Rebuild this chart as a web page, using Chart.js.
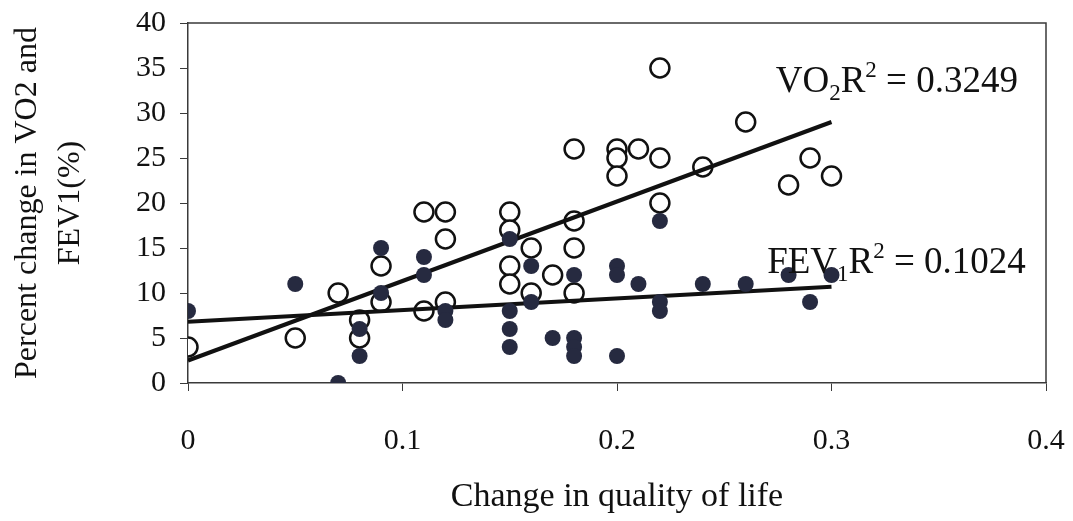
<!DOCTYPE html>
<html>
<head>
<meta charset="utf-8">
<script src="https://cdn.jsdelivr.net/npm/chart.js@4.4.1/dist/chart.umd.min.js"></script>
<style>
  html, body { margin: 0; padding: 0; background: #fff; }
  #wrap { width: 1073px; height: 521px; }
</style>
</head>
<body>
<div id="wrap"><canvas id="my-chart"></canvas></div>
<script>
// open circles: change in VO2
const vo2X = [0, 0.05, 0.07, 0.08, 0.08, 0.09, 0.09, 0.11, 0.11, 0.12, 0.12, 0.12,
  0.15, 0.15, 0.15, 0.15, 0.16, 0.16, 0.17, 0.18, 0.18, 0.18, 0.18,
  0.20, 0.20, 0.20, 0.21, 0.22, 0.22, 0.22, 0.24, 0.26, 0.28, 0.29, 0.30];
const vo2Y = [4, 5, 10, 7, 5, 13, 9, 19, 8, 19, 16, 9,
  19, 17, 13, 11, 15, 10, 12, 26, 18, 15, 10,
  26, 25, 23, 26, 35, 25, 20, 24, 29, 22, 25, 23];

// filled dots: change in FEV1
const fevX = [0, 0.05, 0.07, 0.08, 0.08, 0.09, 0.09, 0.11, 0.11, 0.12, 0.12,
  0.15, 0.15, 0.15, 0.15, 0.16, 0.16, 0.17, 0.18, 0.18, 0.18, 0.18,
  0.20, 0.20, 0.20, 0.21, 0.22, 0.22, 0.22, 0.24, 0.26, 0.28, 0.29, 0.30];
const fevY = [8, 11, 0, 6, 3, 15, 10, 14, 12, 8, 7,
  16, 8, 6, 4, 13, 9, 5, 12, 5, 4, 3,
  13, 12, 3, 11, 18, 9, 8, 11, 11, 12, 9, 12];

// trend line end points
const trendX = [0, 0.30];
const vo2Trend = [2.5, 29.0];
const fevTrend = [6.8, 10.7];

const xTicks = [0, 0.1, 0.2, 0.3, 0.4];
const yTicks = [0, 5, 10, 15, 20, 25, 30, 35, 40];

const toPoints = (xs, ys) => xs.map((x, i) => ({ x: x, y: ys[i] }));

const FONT = "'Liberation Serif', 'Times New Roman', serif";
const AXIS_COLOR = '#3a3a3a';

// draws the box border and the two R² labels (with sub/superscripts)
const extrasPlugin = {
  id: 'extras',
  afterDraw(chart) {
    const ctx = chart.ctx;
    const a = chart.chartArea;
    ctx.save();
    ctx.strokeStyle = AXIS_COLOR;
    ctx.lineWidth = 1.5;
    ctx.beginPath();
    ctx.moveTo(a.left, a.top);
    ctx.lineTo(a.right, a.top);
    ctx.lineTo(a.right, a.bottom);
    ctx.stroke();

    const xs = chart.scales.x, ys = chart.scales.y;
    const drawLabel = (parts, xv, yv) => {
      let px = xs.getPixelForValue(xv);
      const py = ys.getPixelForValue(yv);
      ctx.fillStyle = '#111';
      ctx.textBaseline = 'alphabetic';
      parts.forEach(p => {
        const size = p.small ? 23 : 37;
        const dy = p.sub ? 8 : (p.sup ? -15 : 0);
        ctx.font = size + 'px ' + FONT;
        ctx.fillText(p.t, px, py + dy);
        px += ctx.measureText(p.t).width;
      });
    };
    drawLabel([{ t: 'VO' }, { t: '2', small: true, sub: true }, { t: 'R' },
      { t: '2', small: true, sup: true }, { t: ' = 0.3249' }], 0.274, 32.3);
    drawLabel([{ t: 'FEV' }, { t: '1', small: true, sub: true }, { t: 'R' },
      { t: '2', small: true, sup: true }, { t: ' = 0.1024' }], 0.270, 12.2);
    ctx.restore();
  }
};

const ctx = document.getElementById('my-chart').getContext('2d');
const chart = new Chart(ctx, {
  type: 'scatter',
  data: {
    datasets: [
      {
        label: 'VO2',
        data: toPoints(vo2X, vo2Y),
        pointRadius: 9.5,
        pointBorderWidth: 2.5,
        pointBorderColor: '#111',
        pointBackgroundColor: '#fff',
        order: 3
      },
      {
        label: 'VO2 trend',
        type: 'line',
        data: toPoints(trendX, vo2Trend),
        borderColor: '#111',
        borderWidth: 4,
        pointRadius: 0,
        order: 2
      },
      {
        label: 'FEV1 trend',
        type: 'line',
        data: toPoints(trendX, fevTrend),
        borderColor: '#111',
        borderWidth: 4,
        pointRadius: 0,
        order: 2
      },
      {
        label: 'FEV1',
        data: toPoints(fevX, fevY),
        pointRadius: 8,
        pointBorderWidth: 0,
        pointBackgroundColor: '#262a40',
        order: 1
      }
    ]
  },
  options: {
    responsive: true,
    maintainAspectRatio: false,
    animation: false,
    layout: { padding: { left: 0, right: 27, top: 23, bottom: 0 } },
    plugins: { legend: { display: false }, tooltip: { enabled: false } },
    scales: {
      x: {
        type: 'linear',
        min: 0, max: 0.4,
        afterBuildTicks: s => { s.ticks = xTicks.map(v => ({ value: v })); },
        afterFit: s => { s.height = 138; s.paddingLeft = 0; s.paddingRight = 0; },
        grid: { display: true, drawOnChartArea: false, drawTicks: true, tickLength: 8, color: AXIS_COLOR },
        border: { display: true, color: AXIS_COLOR, width: 1.5 },
        ticks: {
          color: '#111', padding: 32,
          font: { family: FONT, size: 30 },
          callback: v => String(v)
        },
        title: {
          display: true, text: 'Change in quality of life', color: '#111',
          font: { family: FONT, size: 34 }, padding: { top: 0, bottom: 4 }
        }
      },
      y: {
        type: 'linear',
        min: 0, max: 40,
        afterBuildTicks: s => { s.ticks = yTicks.map(v => ({ value: v })); },
        afterFit: s => { s.width = 188; s.paddingTop = 0; s.paddingBottom = 0; },
        grid: { display: true, drawOnChartArea: false, drawTicks: true, tickLength: 8, color: AXIS_COLOR },
        border: { display: true, color: AXIS_COLOR, width: 1.5 },
        ticks: {
          color: '#111', padding: 14,
          font: { family: FONT, size: 30 }
        },
        title: {
          display: true, text: ['Percent change in VO2 and', 'FEV1(%)'], color: '#111',
          font: { family: FONT, size: 32, lineHeight: 1.35 }, padding: { top: 6, bottom: 0 }
        }
      }
    }
  },
  plugins: [extrasPlugin]
});
</script>
</body>
</html>
